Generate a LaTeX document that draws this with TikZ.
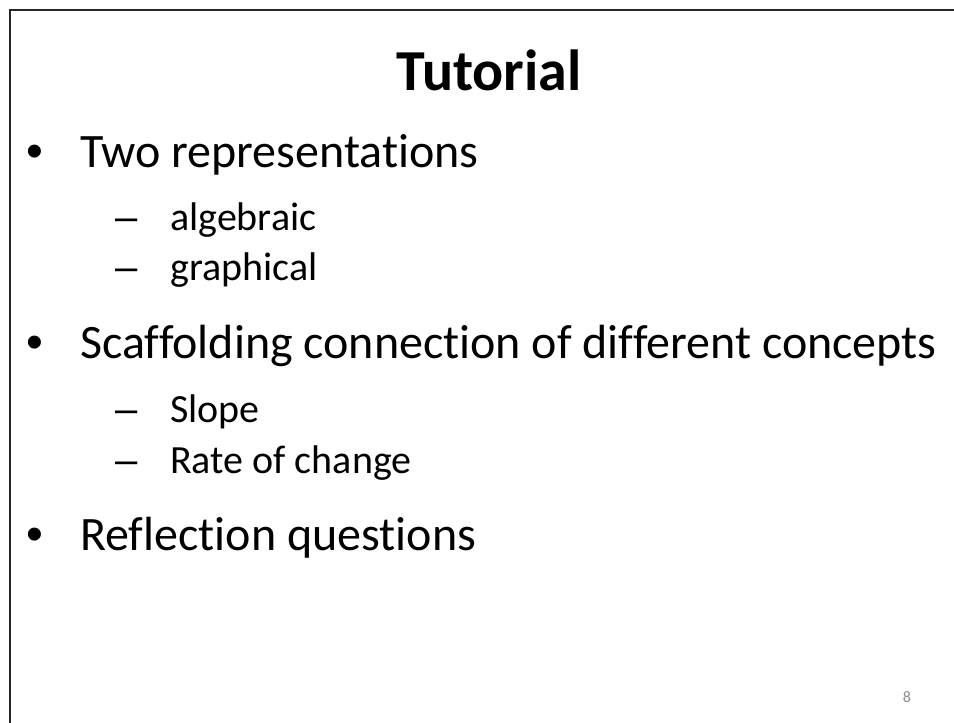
\documentclass[tikz,border=0pt]{standalone}
\usepackage{fontspec}
\setmainfont{Carlito}[Ligatures=NoCommon]
\newfontfamily\markfont{Liberation Sans}
\usetikzlibrary{positioning}
\tikzset{
frameline/.style={line width=2.5pt, black!85},
titletext/.style={anchor=base, inner sep=0pt, font=\fontsize{58}{68}\selectfont\bfseries},
lvlone/.style={anchor=base west, inner sep=0pt, font=\fontsize{48}{58}\selectfont},
lvltwo/.style={anchor=base west, inner sep=0pt, font=\fontsize{40}{48}\selectfont},
bulletmark/.style={anchor=base west, inner sep=0pt, font=\markfont\fontsize{48}{58}\selectfont},
dashmark/.style={anchor=base west, inner sep=0pt, font=\markfont\fontsize{40}{48}\selectfont},
pagenum/.style={anchor=base, inner sep=0pt, text=black!45, font=\fontsize{16}{19}\selectfont},
}

\begin{document}
\begin{tikzpicture}[x=1pt, y=-1pt]
	\useasboundingbox (0,0) rectangle (954,723);
	% slide frame
	\coordinate (tl) at (10,10);
	\coordinate (tr) at (954,10);
	\coordinate (bl) at (10,723);
	\draw[frameline] (tr) -- (tl) -- (bl);

	\node[titletext] at (489,90) (title) {Tutorial};

	\node[bulletmark] at (26,167) (b1) {•};
	\node[lvlone] at (80,167) (two) {Two representations};
	\node[dashmark] at (115,230) (d1) {–};
	\node[lvltwo] at (170,230) (alg) {algebraic};
	\node[dashmark] at (115,280) (d2) {–};
	\node[lvltwo] at (170,280) (gra) {graphical};

	\node[bulletmark] at (26,358) (b2) {•};
	\node[lvlone] at (80,358) (scaf) {Scaffolding connection of different concepts};
	\node[dashmark] at (115,422) (d3) {–};
	\node[lvltwo] at (170,422) (slope) {Slope};
	\node[dashmark] at (115,473) (d4) {–};
	\node[lvltwo] at (170,473) (rate) {Rate of change};

	\node[bulletmark] at (26,550) (b3) {•};
	\node[lvlone] at (80,550) (refl) {Reflection questions};

	\node[pagenum] at (907,702) (page) {8};
\end{tikzpicture}
\end{document}
